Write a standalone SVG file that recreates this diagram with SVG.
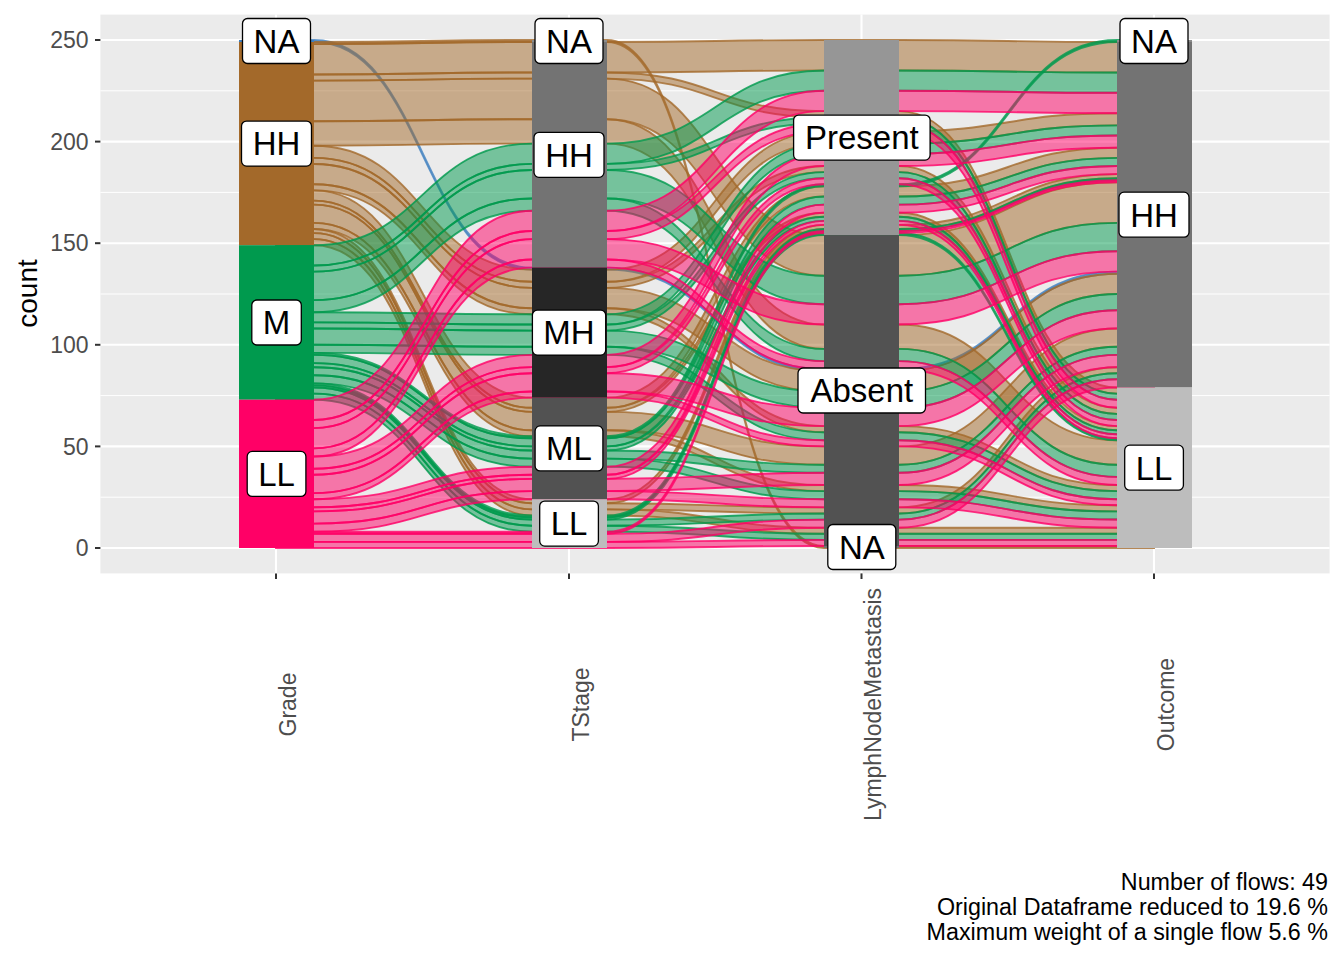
<svg xmlns="http://www.w3.org/2000/svg" width="1344" height="960" viewBox="0 0 1344 960">
<style>
.flow{stroke-width:1.9;fill-opacity:.5;stroke-opacity:.8}
.hh{fill:#A3692A;stroke:#A3692A}
.m{fill:#009A4E;stroke:#009A4E}
.ll{fill:#FF0066;stroke:#FF0066}
.na{fill:#3F7FBF;stroke:#3F7FBF}
.lab rect{fill:#fff;stroke:#000;stroke-width:1.3}
.lab text{font-family:"Liberation Sans",Arial,sans-serif;font-size:33px;text-anchor:middle;fill:#000}
.ax{font-family:"Liberation Sans",Arial,sans-serif;font-size:23px;fill:#4D4D4D}
.gmaj{stroke:#fff;stroke-width:2.1}
.gmin{stroke:#fff;stroke-width:1}
.tk{stroke:#333;stroke-width:2}
</style>
<rect width="1344" height="960" fill="#fff"/>
<g id="panel">
<rect x="100.4" y="14.6" width="1229.2" height="558.8" fill="#EBEBEB"/>
<g class="gmin"><line x1="100.4" x2="1329.6" y1="90.8" y2="90.8"/><line x1="100.4" x2="1329.6" y1="192.4" y2="192.4"/><line x1="100.4" x2="1329.6" y1="294" y2="294"/><line x1="100.4" x2="1329.6" y1="395.6" y2="395.6"/><line x1="100.4" x2="1329.6" y1="497.2" y2="497.2"/></g>
<g class="gmaj"><line x1="100.4" x2="1329.6" y1="40" y2="40"/><line x1="100.4" x2="1329.6" y1="141.6" y2="141.6"/><line x1="100.4" x2="1329.6" y1="243.2" y2="243.2"/><line x1="100.4" x2="1329.6" y1="344.8" y2="344.8"/><line x1="100.4" x2="1329.6" y1="446.4" y2="446.4"/><line x1="100.4" x2="1329.6" y1="548" y2="548"/>
<line x1="276" x2="276" y1="14.6" y2="573.4"/><line x1="569" x2="569" y1="14.6" y2="573.4"/><line x1="861.5" x2="861.5" y1="14.6" y2="573.4"/><line x1="1154" x2="1154" y1="14.6" y2="573.4"/></g>
</g>
<g id="connectors">
<path class="flow na" d="M276 40H314C423 40 423 267.6 532 267.6H607C715.5 267.6 715.5 369.2 824 369.2H899C1008 369.2 1008 271.6 1117 271.6H1154V273.7H1117C1008 273.7 1008 371.2 899 371.2H824C715.5 371.2 715.5 269.6 607 269.6H532C423 269.6 423 42 314 42H276Z"/>
<path class="flow hh" d="M276 42H314C423 42 423 40 532 40H607C715.5 40 715.5 546 824 546H899C1008 546 1008 546 1117 546H1154V548H1117C1008 548 1008 548 899 548H824C715.5 548 715.5 42 607 42H532C423 42 423 44.1 314 44.1H276Z"/>
<path class="flow hh" d="M276 44.1H314C423 44.1 423 42 532 42H607C715.5 42 715.5 40 824 40H899C1008 40 1008 42 1117 42H1154V72.5H1117C1008 72.5 1008 70.5 899 70.5H824C715.5 70.5 715.5 72.5 607 72.5H532C423 72.5 423 74.5 314 74.5H276Z"/>
<path class="flow hh" d="M276 74.5H314C423 74.5 423 72.5 532 72.5H607C715.5 72.5 715.5 111.1 824 111.1H899C1008 111.1 1008 387.5 1117 387.5H1154V393.6H1117C1008 393.6 1008 117.2 899 117.2H824C715.5 117.2 715.5 78.6 607 78.6H532C423 78.6 423 80.6 314 80.6H276Z"/>
<path class="flow hh" d="M276 80.6H314C423 80.6 423 78.6 532 78.6H607C715.5 78.6 715.5 235.1 824 235.1H899C1008 235.1 1008 182.2 1117 182.2H1154V222.9H1117C1008 222.9 1008 275.7 899 275.7H824C715.5 275.7 715.5 119.2 607 119.2H532C423 119.2 423 121.3 314 121.3H276Z"/>
<path class="flow hh" d="M276 121.3H314C423 121.3 423 119.2 532 119.2H607C715.5 119.2 715.5 324.5 824 324.5H899C1008 324.5 1008 440.3 1117 440.3H1154V464.7H1117C1008 464.7 1008 348.9 899 348.9H824C715.5 348.9 715.5 143.6 607 143.6H532C423 143.6 423 145.7 314 145.7H276Z"/>
<path class="flow hh" d="M276 145.7H314C423 145.7 423 269.6 532 269.6H607C715.5 269.6 715.5 131.4 824 131.4H899C1008 131.4 1008 113.2 1117 113.2H1154V125.4H1117C1008 125.4 1008 143.6 899 143.6H824C715.5 143.6 715.5 281.8 607 281.8H532C423 281.8 423 157.9 314 157.9H276Z"/>
<path class="flow hh" d="M276 157.9H314C423 157.9 423 281.8 532 281.8H607C715.5 281.8 715.5 166 824 166H899C1008 166 1008 407.8 1117 407.8H1154V413.9H1117C1008 413.9 1008 172.1 899 172.1H824C715.5 172.1 715.5 287.9 607 287.9H532C423 287.9 423 164 314 164H276Z"/>
<path class="flow hh" d="M276 164H314C423 164 423 287.9 532 287.9H607C715.5 287.9 715.5 371.2 824 371.2H899C1008 371.2 1008 273.7 1117 273.7H1154V294H1117C1008 294 1008 391.5 899 391.5H824C715.5 391.5 715.5 308.2 607 308.2H532C423 308.2 423 184.3 314 184.3H276Z"/>
<path class="flow hh" d="M276 184.3H314C423 184.3 423 308.2 532 308.2H607C715.5 308.2 715.5 426.1 824 426.1H899C1008 426.1 1008 485 1117 485H1154V491.1H1117C1008 491.1 1008 432.2 899 432.2H824C715.5 432.2 715.5 314.3 607 314.3H532C423 314.3 423 190.4 314 190.4H276Z"/>
<path class="flow hh" d="M276 190.4H314C423 190.4 423 397.6 532 397.6H607C715.5 397.6 715.5 186.3 824 186.3H899C1008 186.3 1008 147.7 1117 147.7H1154V157.9H1117C1008 157.9 1008 196.5 899 196.5H824C715.5 196.5 715.5 407.8 607 407.8H532C423 407.8 423 200.6 314 200.6H276Z"/>
<path class="flow hh" d="M276 200.6H314C423 200.6 423 407.8 532 407.8H607C715.5 407.8 715.5 212.7 824 212.7H899C1008 212.7 1008 426.1 1117 426.1H1154V430.2H1117C1008 430.2 1008 216.8 899 216.8H824C715.5 216.8 715.5 411.9 607 411.9H532C423 411.9 423 204.6 314 204.6H276Z"/>
<path class="flow hh" d="M276 204.6H314C423 204.6 423 411.9 532 411.9H607C715.5 411.9 715.5 446.4 824 446.4H899C1008 446.4 1008 328.5 1117 328.5H1154V346.8H1117C1008 346.8 1008 464.7 899 464.7H824C715.5 464.7 715.5 430.2 607 430.2H532C423 430.2 423 222.9 314 222.9H276Z"/>
<path class="flow hh" d="M276 222.9H314C423 222.9 423 430.2 532 430.2H607C715.5 430.2 715.5 485 824 485H899C1008 485 1008 505.3 1117 505.3H1154V511.4H1117C1008 511.4 1008 491.1 899 491.1H824C715.5 491.1 715.5 436.2 607 436.2H532C423 436.2 423 229 314 229H276Z"/>
<path class="flow hh" d="M276 229H314C423 229 423 499.2 532 499.2H607C715.5 499.2 715.5 224.9 824 224.9H899C1008 224.9 1008 174.1 1117 174.1H1154V178.2H1117C1008 178.2 1008 229 899 229H824C715.5 229 715.5 503.3 607 503.3H532C423 503.3 423 233.1 314 233.1H276Z"/>
<path class="flow hh" d="M276 233.1H314C423 233.1 423 503.3 532 503.3H607C715.5 503.3 715.5 507.4 824 507.4H899C1008 507.4 1008 367.2 1117 367.2H1154V373.3H1117C1008 373.3 1008 513.5 899 513.5H824C715.5 513.5 715.5 509.4 607 509.4H532C423 509.4 423 239.1 314 239.1H276Z"/>
<path class="flow hh" d="M276 239.1H314C423 239.1 423 509.4 532 509.4H607C715.5 509.4 715.5 527.7 824 527.7H899C1008 527.7 1008 527.7 1117 527.7H1154V533.8H1117C1008 533.8 1008 533.8 899 533.8H824C715.5 533.8 715.5 515.5 607 515.5H532C423 515.5 423 245.2 314 245.2H276Z"/>
<path class="flow m" d="M276 245.2H314C423 245.2 423 143.6 532 143.6H607C715.5 143.6 715.5 70.5 824 70.5H899C1008 70.5 1008 72.5 1117 72.5H1154V92.8H1117C1008 92.8 1008 90.8 899 90.8H824C715.5 90.8 715.5 163.9 607 163.9H532C423 163.9 423 265.5 314 265.5H276Z"/>
<path class="flow m" d="M276 265.5H314C423 265.5 423 163.9 532 163.9H607C715.5 163.9 715.5 117.2 824 117.2H899C1008 117.2 1008 393.6 1117 393.6H1154V399.7H1117C1008 399.7 1008 123.3 899 123.3H824C715.5 123.3 715.5 170 607 170H532C423 170 423 271.6 314 271.6H276Z"/>
<path class="flow m" d="M276 271.6H314C423 271.6 423 170 532 170H607C715.5 170 715.5 275.7 824 275.7H899C1008 275.7 1008 222.9 1117 222.9H1154V251.3H1117C1008 251.3 1008 304.2 899 304.2H824C715.5 304.2 715.5 198.5 607 198.5H532C423 198.5 423 300.1 314 300.1H276Z"/>
<path class="flow m" d="M276 300.1H314C423 300.1 423 198.5 532 198.5H607C715.5 198.5 715.5 348.9 824 348.9H899C1008 348.9 1008 464.7 1117 464.7H1154V476.9H1117C1008 476.9 1008 361.1 899 361.1H824C715.5 361.1 715.5 210.7 607 210.7H532C423 210.7 423 312.3 314 312.3H276Z"/>
<path class="flow m" d="M276 312.3H314C423 312.3 423 314.3 532 314.3H607C715.5 314.3 715.5 143.6 824 143.6H899C1008 143.6 1008 125.4 1117 125.4H1154V135.5H1117C1008 135.5 1008 153.8 899 153.8H824C715.5 153.8 715.5 324.5 607 324.5H532C423 324.5 423 322.4 314 322.4H276Z"/>
<path class="flow m" d="M276 322.4H314C423 322.4 423 324.5 532 324.5H607C715.5 324.5 715.5 172.1 824 172.1H899C1008 172.1 1008 413.9 1117 413.9H1154V420H1117C1008 420 1008 178.2 899 178.2H824C715.5 178.2 715.5 330.6 607 330.6H532C423 330.6 423 328.5 314 328.5H276Z"/>
<path class="flow m" d="M276 328.5H314C423 328.5 423 330.6 532 330.6H607C715.5 330.6 715.5 391.5 824 391.5H899C1008 391.5 1008 294 1117 294H1154V310.3H1117C1008 310.3 1008 407.8 899 407.8H824C715.5 407.8 715.5 346.8 607 346.8H532C423 346.8 423 344.8 314 344.8H276Z"/>
<path class="flow m" d="M276 344.8H314C423 344.8 423 346.8 532 346.8H607C715.5 346.8 715.5 432.2 824 432.2H899C1008 432.2 1008 491.1 1117 491.1H1154V499.2H1117C1008 499.2 1008 440.3 899 440.3H824C715.5 440.3 715.5 354.9 607 354.9H532C423 354.9 423 352.9 314 352.9H276Z"/>
<path class="flow m" d="M276 352.9H314C423 352.9 423 436.2 532 436.2H607C715.5 436.2 715.5 184.3 824 184.3H899C1008 184.3 1008 40 1117 40H1154V42H1117C1008 42 1008 186.3 899 186.3H824C715.5 186.3 715.5 438.3 607 438.3H532C423 438.3 423 354.9 314 354.9H276Z"/>
<path class="flow m" d="M276 354.9H314C423 354.9 423 438.3 532 438.3H607C715.5 438.3 715.5 196.5 824 196.5H899C1008 196.5 1008 157.9 1117 157.9H1154V166H1117C1008 166 1008 204.6 899 204.6H824C715.5 204.6 715.5 446.4 607 446.4H532C423 446.4 423 363.1 314 363.1H276Z"/>
<path class="flow m" d="M276 363.1H314C423 363.1 423 446.4 532 446.4H607C715.5 446.4 715.5 216.8 824 216.8H899C1008 216.8 1008 430.2 1117 430.2H1154V434.2H1117C1008 434.2 1008 220.9 899 220.9H824C715.5 220.9 715.5 450.5 607 450.5H532C423 450.5 423 367.2 314 367.2H276Z"/>
<path class="flow m" d="M276 367.2H314C423 367.2 423 450.5 532 450.5H607C715.5 450.5 715.5 464.7 824 464.7H899C1008 464.7 1008 346.8 1117 346.8H1154V354.9H1117C1008 354.9 1008 472.8 899 472.8H824C715.5 472.8 715.5 458.6 607 458.6H532C423 458.6 423 375.3 314 375.3H276Z"/>
<path class="flow m" d="M276 375.3H314C423 375.3 423 458.6 532 458.6H607C715.5 458.6 715.5 491.1 824 491.1H899C1008 491.1 1008 511.4 1117 511.4H1154V519.5H1117C1008 519.5 1008 499.2 899 499.2H824C715.5 499.2 715.5 466.7 607 466.7H532C423 466.7 423 383.4 314 383.4H276Z"/>
<path class="flow m" d="M276 383.4H314C423 383.4 423 515.5 532 515.5H607C715.5 515.5 715.5 229 824 229H899C1008 229 1008 178.2 1117 178.2H1154V180.2H1117C1008 180.2 1008 231 899 231H824C715.5 231 715.5 517.5 607 517.5H532C423 517.5 423 385.4 314 385.4H276Z"/>
<path class="flow m" d="M276 385.4H314C423 385.4 423 517.5 532 517.5H607C715.5 517.5 715.5 233 824 233H899C1008 233 1008 438.3 1117 438.3H1154V440.3H1117C1008 440.3 1008 235.1 899 235.1H824C715.5 235.1 715.5 519.6 607 519.6H532C423 519.6 423 387.5 314 387.5H276Z"/>
<path class="flow m" d="M276 387.5H314C423 387.5 423 519.6 532 519.6H607C715.5 519.6 715.5 513.5 824 513.5H899C1008 513.5 1008 373.3 1117 373.3H1154V379.3H1117C1008 379.3 1008 519.6 899 519.6H824C715.5 519.6 715.5 525.7 607 525.7H532C423 525.7 423 393.6 314 393.6H276Z"/>
<path class="flow m" d="M276 393.6H314C423 393.6 423 525.7 532 525.7H607C715.5 525.7 715.5 533.8 824 533.8H899C1008 533.8 1008 533.8 1117 533.8H1154V539.9H1117C1008 539.9 1008 539.9 899 539.9H824C715.5 539.9 715.5 531.7 607 531.7H532C423 531.7 423 399.7 314 399.7H276Z"/>
<path class="flow ll" d="M276 399.7H314C423 399.7 423 210.7 532 210.7H607C715.5 210.7 715.5 90.8 824 90.8H899C1008 90.8 1008 92.8 1117 92.8H1154V113.2H1117C1008 113.2 1008 111.1 899 111.1H824C715.5 111.1 715.5 231 607 231H532C423 231 423 420 314 420H276Z"/>
<path class="flow ll" d="M276 420H314C423 420 423 231 532 231H607C715.5 231 715.5 123.3 824 123.3H899C1008 123.3 1008 399.7 1117 399.7H1154V407.8H1117C1008 407.8 1008 131.4 899 131.4H824C715.5 131.4 715.5 239.1 607 239.1H532C423 239.1 423 428.1 314 428.1H276Z"/>
<path class="flow ll" d="M276 428.1H314C423 428.1 423 239.1 532 239.1H607C715.5 239.1 715.5 304.2 824 304.2H899C1008 304.2 1008 251.3 1117 251.3H1154V271.6H1117C1008 271.6 1008 324.5 899 324.5H824C715.5 324.5 715.5 259.5 607 259.5H532C423 259.5 423 448.4 314 448.4H276Z"/>
<path class="flow ll" d="M276 448.4H314C423 448.4 423 259.5 532 259.5H607C715.5 259.5 715.5 361.1 824 361.1H899C1008 361.1 1008 476.9 1117 476.9H1154V485H1117C1008 485 1008 369.2 899 369.2H824C715.5 369.2 715.5 267.6 607 267.6H532C423 267.6 423 456.5 314 456.5H276Z"/>
<path class="flow ll" d="M276 456.5H314C423 456.5 423 354.9 532 354.9H607C715.5 354.9 715.5 153.8 824 153.8H899C1008 153.8 1008 135.5 1117 135.5H1154V147.7H1117C1008 147.7 1008 166 899 166H824C715.5 166 715.5 367.1 607 367.1H532C423 367.1 423 468.7 314 468.7H276Z"/>
<path class="flow ll" d="M276 468.7H314C423 468.7 423 367.1 532 367.1H607C715.5 367.1 715.5 178.2 824 178.2H899C1008 178.2 1008 420 1117 420H1154V426.1H1117C1008 426.1 1008 184.3 899 184.3H824C715.5 184.3 715.5 373.2 607 373.2H532C423 373.2 423 474.8 314 474.8H276Z"/>
<path class="flow ll" d="M276 474.8H314C423 474.8 423 373.2 532 373.2H607C715.5 373.2 715.5 407.8 824 407.8H899C1008 407.8 1008 310.3 1117 310.3H1154V328.5H1117C1008 328.5 1008 426.1 899 426.1H824C715.5 426.1 715.5 391.5 607 391.5H532C423 391.5 423 493.1 314 493.1H276Z"/>
<path class="flow ll" d="M276 493.1H314C423 493.1 423 391.5 532 391.5H607C715.5 391.5 715.5 440.3 824 440.3H899C1008 440.3 1008 499.2 1117 499.2H1154V505.3H1117C1008 505.3 1008 446.4 899 446.4H824C715.5 446.4 715.5 397.6 607 397.6H532C423 397.6 423 499.2 314 499.2H276Z"/>
<path class="flow ll" d="M276 499.2H314C423 499.2 423 466.7 532 466.7H607C715.5 466.7 715.5 204.6 824 204.6H899C1008 204.6 1008 166 1117 166H1154V174.1H1117C1008 174.1 1008 212.7 899 212.7H824C715.5 212.7 715.5 474.8 607 474.8H532C423 474.8 423 507.3 314 507.3H276Z"/>
<path class="flow ll" d="M276 507.3H314C423 507.3 423 474.8 532 474.8H607C715.5 474.8 715.5 220.9 824 220.9H899C1008 220.9 1008 434.2 1117 434.2H1154V438.3H1117C1008 438.3 1008 224.9 899 224.9H824C715.5 224.9 715.5 478.9 607 478.9H532C423 478.9 423 511.4 314 511.4H276Z"/>
<path class="flow ll" d="M276 511.4H314C423 511.4 423 478.9 532 478.9H607C715.5 478.9 715.5 472.8 824 472.8H899C1008 472.8 1008 354.9 1117 354.9H1154V367.2H1117C1008 367.2 1008 485 899 485H824C715.5 485 715.5 491.1 607 491.1H532C423 491.1 423 523.6 314 523.6H276Z"/>
<path class="flow ll" d="M276 523.6H314C423 523.6 423 491.1 532 491.1H607C715.5 491.1 715.5 499.2 824 499.2H899C1008 499.2 1008 519.5 1117 519.5H1154V527.7H1117C1008 527.7 1008 507.4 899 507.4H824C715.5 507.4 715.5 499.2 607 499.2H532C423 499.2 423 531.7 314 531.7H276Z"/>
<path class="flow ll" d="M276 531.7H314C423 531.7 423 531.7 532 531.7H607C715.5 531.7 715.5 231 824 231H899C1008 231 1008 180.2 1117 180.2H1154V182.2H1117C1008 182.2 1008 233 899 233H824C715.5 233 715.5 533.8 607 533.8H532C423 533.8 423 533.8 314 533.8H276Z"/>
<path class="flow ll" d="M276 533.8H314C423 533.8 423 533.8 532 533.8H607C715.5 533.8 715.5 519.6 824 519.6H899C1008 519.6 1008 379.3 1117 379.3H1154V387.5H1117C1008 387.5 1008 527.7 899 527.7H824C715.5 527.7 715.5 541.9 607 541.9H532C423 541.9 423 541.9 314 541.9H276Z"/>
<path class="flow ll" d="M276 541.9H314C423 541.9 423 541.9 532 541.9H607C715.5 541.9 715.5 539.9 824 539.9H899C1008 539.9 1008 539.9 1117 539.9H1154V546H1117C1008 546 1008 546 899 546H824C715.5 546 715.5 548 607 548H532C423 548 423 548 314 548H276Z"/>
</g>
<g id="grade-NA"><rect x="239" y="40" width="75" height="2" fill="#3F7FBF"/></g>
<g id="grade-HH"><rect x="239" y="42" width="75" height="203.2" fill="#A3692A"/></g>
<g id="grade-M"><rect x="239" y="245.2" width="75" height="154.5" fill="#009A4E"/></g>
<g id="grade-LL"><rect x="239" y="399.7" width="75" height="148.3" fill="#FF0066"/></g>
<g id="tstage-NA"><rect x="532" y="40" width="75" height="2" fill="#8C8C8C"/></g>
<g id="tstage-HH"><rect x="532" y="42" width="75" height="225.6" fill="#737373"/></g>
<g id="tstage-MH"><rect x="532" y="267.6" width="75" height="130" fill="#262626"/></g>
<g id="tstage-ML"><rect x="532" y="397.6" width="75" height="101.6" fill="#525252"/></g>
<g id="tstage-LL"><rect x="532" y="499.2" width="75" height="48.8" fill="#BDBDBD"/></g>
<g id="lnm-Present"><rect x="824" y="40" width="75" height="195.1" fill="#969696"/></g>
<g id="lnm-Absent"><rect x="824" y="235.1" width="75" height="310.9" fill="#525252"/></g>
<g id="lnm-NA"><rect x="824" y="546" width="75" height="2" fill="#737373"/></g>
<g id="outcome-NA"><rect x="1117" y="40" width="75" height="2" fill="#8C8C8C"/></g>
<g id="outcome-HH"><rect x="1117" y="42" width="75" height="345.5" fill="#737373"/></g>
<g id="outcome-LL"><rect x="1117" y="387.5" width="75" height="160.5" fill="#BDBDBD"/></g>
<g id="labels" class="lab">
<g id="label-grade-NA"><rect x="242.5" y="18.5" width="68" height="45" rx="5"/><text x="276.5" y="52.8">NA</text></g>
<g id="label-grade-HH"><rect x="241.5" y="121.1" width="70" height="45" rx="5"/><text x="276.5" y="155.4">HH</text></g>
<g id="label-grade-M"><rect x="251.8" y="300" width="49.5" height="45" rx="5"/><text x="276.5" y="334.3">M</text></g>
<g id="label-grade-LL"><rect x="247.2" y="451.4" width="58.7" height="45" rx="5"/><text x="276.5" y="485.7">LL</text></g>
<g id="label-tstage-NA"><rect x="535" y="18.5" width="68" height="45" rx="5"/><text x="569" y="52.8">NA</text></g>
<g id="label-tstage-HH"><rect x="534" y="132.3" width="70" height="45" rx="5"/><text x="569" y="166.6">HH</text></g>
<g id="label-tstage-MH"><rect x="532.4" y="310.1" width="73.3" height="45" rx="5"/><text x="569" y="344.4">MH</text></g>
<g id="label-tstage-ML"><rect x="535.1" y="425.9" width="67.8" height="45" rx="5"/><text x="569" y="460.2">ML</text></g>
<g id="label-tstage-LL"><rect x="539.7" y="501.1" width="58.7" height="45" rx="5"/><text x="569" y="535.4">LL</text></g>
<g id="label-lnm-Present"><rect x="793.6" y="115.1" width="136.5" height="45" rx="5"/><text x="861.8" y="149.4">Present</text></g>
<g id="label-lnm-Absent"><rect x="798" y="368" width="127.5" height="45" rx="5"/><text x="861.8" y="402.3">Absent</text></g>
<g id="label-lnm-NA"><rect x="827.8" y="524.5" width="68" height="45" rx="5"/><text x="861.8" y="558.8">NA</text></g>
<g id="label-outcome-NA"><rect x="1120" y="18.5" width="68" height="45" rx="5"/><text x="1154" y="52.8">NA</text></g>
<g id="label-outcome-HH"><rect x="1119" y="192.2" width="70" height="45" rx="5"/><text x="1154" y="226.5">HH</text></g>
<g id="label-outcome-LL"><rect x="1124.7" y="445.2" width="58.7" height="45" rx="5"/><text x="1154" y="479.5">LL</text></g>
</g>
<g id="axes">
<g class="tk"><line x1="95" x2="100.4" y1="40" y2="40"/><line x1="95" x2="100.4" y1="141.6" y2="141.6"/><line x1="95" x2="100.4" y1="243.2" y2="243.2"/><line x1="95" x2="100.4" y1="344.8" y2="344.8"/><line x1="95" x2="100.4" y1="446.4" y2="446.4"/><line x1="95" x2="100.4" y1="548" y2="548"/>
<line x1="276" x2="276" y1="573.4" y2="579"/><line x1="569" x2="569" y1="573.4" y2="579"/><line x1="861.5" x2="861.5" y1="573.4" y2="579"/><line x1="1154" x2="1154" y1="573.4" y2="579"/></g>
<g class="ax" text-anchor="end"><text x="88.5" y="48.2">250</text><text x="88.5" y="149.8">200</text><text x="88.5" y="251.4">150</text><text x="88.5" y="353">100</text><text x="88.5" y="454.6">50</text><text x="88.5" y="556.2">0</text></g>
<g class="ax" text-anchor="middle">
<text transform="translate(295.5,704.5) rotate(-90)">Grade</text>
<text transform="translate(588.5,704.5) rotate(-90)">TStage</text>
<text transform="translate(881,704.5) rotate(-90)">LymphNodeMetastasis</text>
<text transform="translate(1173.5,704.5) rotate(-90)">Outcome</text>
</g>
<text transform="translate(37,293.5) rotate(-90)" font-family="Liberation Sans, Arial, sans-serif" font-size="28" text-anchor="middle" fill="#000">count</text>
</g>
<g id="caption" font-family="Liberation Sans, Arial, sans-serif" font-size="23.3" text-anchor="end" fill="#000">
<text x="1328" y="890">Number of flows: 49</text>
<text x="1328" y="915">Original Dataframe reduced to 19.6 %</text>
<text x="1328" y="940">Maximum weight of a single flow 5.6 %</text>
</g>
</svg>
